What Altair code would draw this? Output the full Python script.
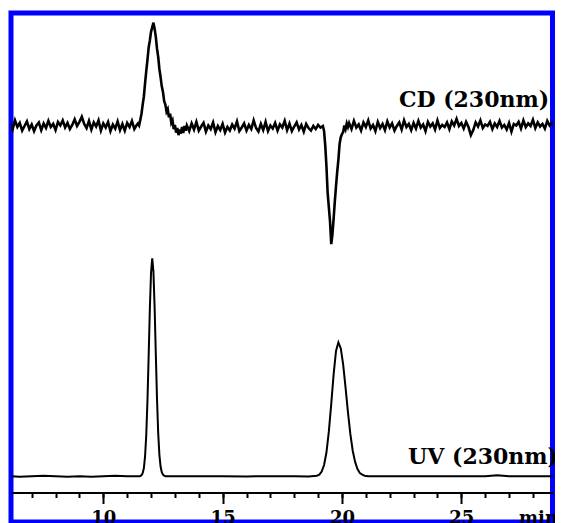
import altair as alt
import pandas as pd

# ---------------- data ----------------
# time axis in minutes, signal in arbitrary units (0..100 full height)

# CD trace (230 nm), sampled piecewise at a fixed step
CD_A_START, CD_A_STEP = 6.1, 0.1
CD_A = [78.2, 77.1, 78.9, 77.6, 78.4, 76.9, 77.8, 78.7, 77.2, 78.1,
        76.8, 77.9, 78.5, 77.0, 78.3, 77.4, 78.8, 77.6, 78.2, 77.0,
        78.6, 77.9, 78.9, 77.5, 78.4, 77.2, 78.0, 79.1, 77.8, 78.6,
        79.6, 78.2, 77.4, 78.8, 77.1, 78.5, 77.7, 78.9, 76.9, 78.3,
        77.5, 78.6, 76.8, 78.1, 77.3, 78.7, 77.0, 78.2, 76.9, 78.4,
        77.6, 78.8, 77.2, 78.0]

CD_P1_START, CD_P1_STEP = 11.45, 0.05
CD_P1 = [78.3, 77.9, 79.0, 80.2, 82.0, 83.6, 86.2, 88.6, 90.8, 93.2,
         94.6, 96.3, 97.2, 98.1, 96.9, 95.3, 93.0, 91.4, 89.0, 87.4,
         85.6, 84.5, 82.7, 82.0, 80.6, 81.1, 79.5, 80.2, 78.4, 78.9,
         77.2, 78.0, 76.5, 77.4, 76.0, 77.1, 76.3, 77.6, 76.4, 77.8,
         76.9]

CD_B_START, CD_B_STEP = 13.5, 0.1
CD_B = [77.9, 76.8, 78.3, 77.1, 78.6, 76.9, 77.7, 78.4, 76.7, 77.9,
        77.2, 78.5, 76.6, 77.8, 77.0, 78.2, 76.5, 77.6, 76.9, 78.1,
        77.3, 78.7, 76.8, 77.5, 78.3, 76.9, 78.0, 77.2, 78.9, 77.4,
        76.7, 78.2, 77.0, 78.6, 76.8, 77.9, 77.3, 78.4, 76.9, 78.1,
        77.5, 78.8, 77.0, 78.3, 76.8, 77.7, 78.5, 77.1, 78.0, 76.7,
        78.2, 77.4, 76.9, 77.8, 77.2, 78.0, 77.5, 77.8]

CD_P2_START, CD_P2_STEP = 19.25, 0.05
CD_P2 = [76.8, 73.9, 69.8, 64.6, 61.8, 59.0, 54.6, 56.5, 59.6, 63.0,
         66.0, 68.8, 71.2, 74.3, 75.6, 76.2, 76.6, 77.9, 77.2, 78.3,
         77.6]

CD_C_START, CD_C_STEP = 20.3, 0.1
CD_C = [78.4, 77.2, 78.8, 77.5, 78.1, 76.9, 78.5, 77.6, 78.9, 77.3,
        78.0, 76.8, 78.6, 77.4, 78.2, 77.0, 78.7, 77.5, 78.3, 76.9,
        77.8, 78.5, 77.1, 78.9, 77.6, 78.2, 77.0, 78.4, 77.3, 78.8,
        77.5, 78.1, 76.8, 78.6, 77.7, 78.3, 77.1, 78.9, 77.4, 78.0,
        77.6, 78.5, 77.2, 78.7, 77.9, 79.2, 77.8, 78.4, 77.3, 78.6,
        77.6, 76.0, 77.0, 78.5, 77.7, 78.9, 77.4, 78.1, 77.8, 78.6,
        77.2, 78.3, 77.6, 78.8, 77.5, 78.0, 77.1, 78.4, 76.7, 78.2,
        77.9, 78.6, 77.3, 78.9, 77.6, 78.3, 77.8, 79.0, 77.4, 78.5,
        77.7, 78.2, 77.3, 78.8, 77.9, 78.4, 77.2, 78.7, 77.8, 78.3]

# UV trace (230 nm)
UV_T = [6.1, 6.5, 7.0, 7.5, 8.0, 8.5, 9.0, 9.5, 10.0, 10.5, 11.0, 11.5,
        11.55, 11.6, 11.65, 11.7, 11.75, 11.8, 11.85, 11.9, 11.95, 12.0,
        12.05, 12.1, 12.15, 12.2, 12.25, 12.3, 12.35, 12.4, 12.45, 12.5,
        12.55, 12.6, 13.0, 14.0, 15.0, 16.0, 17.0, 18.0, 18.6, 18.95,
        19.05, 19.15, 19.25, 19.35, 19.45, 19.55, 19.65, 19.75, 19.85,
        19.95, 20.05, 20.15, 20.25, 20.35, 20.45, 20.55, 20.65, 20.75,
        20.85, 20.95, 21.1, 22.0, 23.0, 24.0, 25.0, 26.0, 26.5, 27.0,
        28.0, 29.2]
UV_V = [9.0, 8.9, 9.0, 9.1, 9.0, 8.9, 9.0, 8.9, 9.0, 9.1, 9.0, 9.0,
        9.05, 9.2, 9.6, 10.6, 12.9, 17.1, 23.8, 32.5, 41.8, 49.0,
        51.8, 49.2, 42.2, 33.0, 24.2, 17.5, 13.2, 10.9, 9.8, 9.3,
        9.1, 9.0, 9.0, 9.0, 9.0, 8.95, 9.0, 9.0, 8.95, 9.1,
        9.3, 9.9, 11.2, 13.7, 17.8, 23.2, 29.0, 33.6, 35.3,
        34.1, 30.9, 26.4, 21.6, 17.3, 14.0, 11.8, 10.4, 9.6,
        9.3, 9.1, 9.0, 9.0, 9.0, 9.0, 9.0, 9.0, 9.2, 9.0,
        9.0, 9.0]

# trace annotations
LABELS = ["CD (230nm)", "UV (230nm)"]
LABEL_T = [28.68, 29.05]
LABEL_Y = [81.6, 11.3]

# axis
X_DOMAIN = [6.133, 28.82]
MAJOR_TICKS = [10, 15, 20, 25]
MINOR_TICKS = list(range(7, 29))
AXIS_UNIT = "min"

# ---------------- build tables ----------------
rows = []
for start, step, vals in [(CD_A_START, CD_A_STEP, CD_A),
                          (CD_P1_START, CD_P1_STEP, CD_P1),
                          (CD_B_START, CD_B_STEP, CD_B),
                          (CD_P2_START, CD_P2_STEP, CD_P2),
                          (CD_C_START, CD_C_STEP, CD_C)]:
    for i, v in enumerate(vals):
        rows.append({"t": round(start + i * step, 3), "v": v, "trace": "CD"})
for t, v in zip(UV_T, UV_V):
    rows.append({"t": t, "v": v, "trace": "UV"})
df = pd.DataFrame(rows)
df["order"] = range(len(df))

lab = pd.DataFrame({"t": LABEL_T, "v": LABEL_Y, "text": LABELS})

FONT = "DejaVu Serif"
AXIS_OFFSET = -29.5

xscale = alt.Scale(domain=X_DOMAIN, nice=False, zero=False)
yscale = alt.Scale(domain=[0, 100], nice=False, zero=False)

major_axis = alt.Axis(
    orient="bottom",
    values=MAJOR_TICKS,
    title=AXIS_UNIT,
    grid=False,
    domainColor="black",
    domainWidth=2,
    tickColor="black",
    tickWidth=2,
    tickSize=11,
    labelOverlap=False,
    labelFlush=False,
    labelFont=FONT,
    labelFontWeight="bold",
    labelFontSize=18,
    labelColor="black",
    labelPadding=6,
    labelBaseline="top",
    offset=AXIS_OFFSET,
    titleFont=FONT,
    titleFontWeight="bold",
    titleFontSize=18,
    titleColor="black",
    titleX=527,
    titleY=17,
    titleAlign="center",
    titleBaseline="top",
    titleAngle=0,
)

minor_axis = alt.Axis(
    orient="bottom",
    values=MINOR_TICKS,
    title=None,
    grid=False,
    domain=False,
    labels=False,
    tickColor="black",
    tickWidth=2,
    tickSize=5,
    offset=AXIS_OFFSET,
)

lines = alt.Chart(df).mark_line(color="black", clip=True).encode(
    x=alt.X("t:Q", scale=xscale, axis=major_axis),
    y=alt.Y("v:Q", scale=yscale, axis=None),
    detail="trace:N",
    order="order:Q",
    strokeWidth=alt.StrokeWidth(
        "trace:N",
        scale=alt.Scale(domain=["CD", "UV"], range=[2.6, 2.0]),
        legend=None,
    ),
)

texts = alt.Chart(lab).mark_text(
    font=FONT, fontWeight="bold", fontSize=22, color="black",
    align="right", baseline="alphabetic",
).encode(
    x=alt.X("t:Q", scale=xscale, axis=minor_axis),
    y=alt.Y("v:Q", scale=yscale, axis=None),
    text="text:N",
)

chart = alt.layer(lines, texts).resolve_axis(x="independent").properties(
    width=541.5,
    height=509,
    autosize=alt.AutoSizeParams(type="none"),
    padding={"left": 3, "top": 5, "right": 2.5, "bottom": 1},
    background="white",
).configure_view(
    stroke="#0000ff",
    strokeWidth=5,
)

chart.save("out.html", embed_options={"renderer": "svg", "actions": False})
